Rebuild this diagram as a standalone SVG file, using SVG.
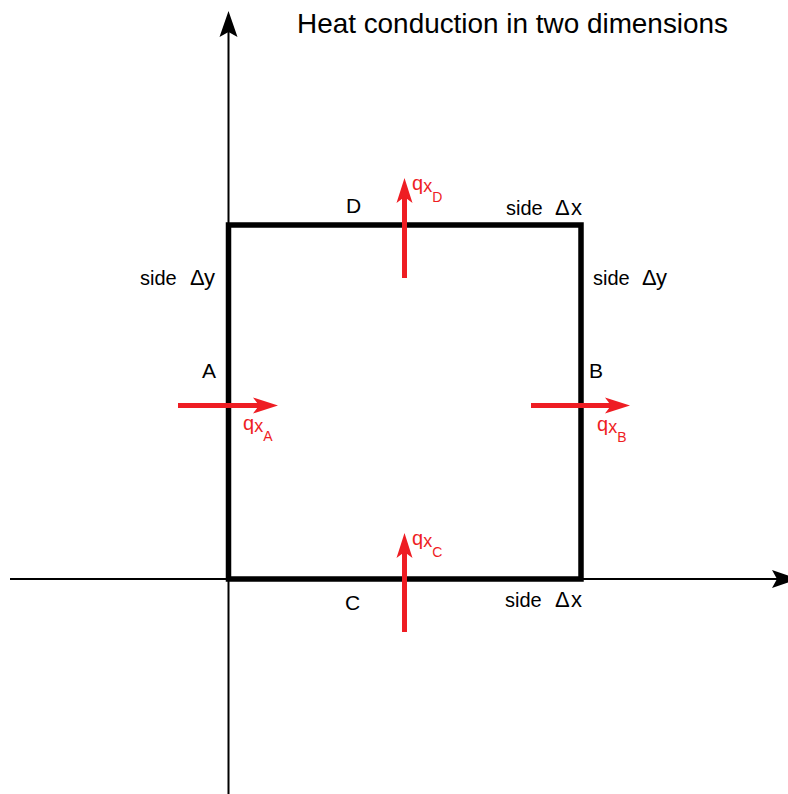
<svg xmlns="http://www.w3.org/2000/svg" width="788" height="794" viewBox="0 0 788 794">
<style>
text{font-family:"Liberation Sans",Arial,sans-serif;fill:#000}
.lbl{font-size:20px}
.sym{font-size:22px}
.big{font-size:21px}
.q{fill:#ee1d23}
.axis{stroke:#000;stroke-width:2;fill:none}
.flux{stroke:#ee1d23;stroke-width:5;fill:none}
.box{stroke:#000;stroke-width:5.5;fill:none}
</style>
<defs>
<marker id="ah" markerUnits="userSpaceOnUse" viewBox="-6 -10 28 20" markerWidth="28" markerHeight="20" refX="0" refY="0" orient="auto">
<path d="M21,0 L-5,-9 L0,0 L-5,9 Z" fill="#000"/>
</marker>
<marker id="rh" markerUnits="userSpaceOnUse" viewBox="-7 -9 27 18" markerWidth="27" markerHeight="18" refX="0" refY="0" orient="auto">
<path d="M19,0 L-6,-8 L0,0 L-6,8 Z" fill="#ee1d23"/>
</marker>
</defs>
<rect width="788" height="794" fill="#fff"/>
<text x="297" y="33" style="font-size:27.5px" textLength="431" lengthAdjust="spacingAndGlyphs">Heat conduction in two dimensions</text>
<g id="connectors">
<line class="axis" x1="228.5" y1="794" x2="228.5" y2="32" marker-end="url(#ah)"/>
<line class="axis" x1="10" y1="579" x2="777" y2="579" marker-end="url(#ah)"/>
</g>
<g id="element">
<rect class="box" x="228.5" y="225" width="352.5" height="354"/>
</g>
<g id="side-labels">
<text class="lbl" x="506" y="215">side <tspan class="sym" x="555">Δ</tspan><tspan class="sym" x="571">x</tspan></text>
<text class="lbl" x="505" y="607">side <tspan class="sym" x="555">Δ</tspan><tspan class="sym" x="571">x</tspan></text>
<text class="lbl" x="140" y="285">side <tspan class="sym" x="190">Δ</tspan><tspan class="sym" x="204">y</tspan></text>
<text class="lbl" x="593" y="285">side <tspan class="sym" x="642">Δ</tspan><tspan class="sym" x="656">y</tspan></text>
</g>
<g id="face-A"><text class="big" x="202" y="378">A</text></g>
<g id="face-B"><text class="big" x="589" y="378">B</text></g>
<g id="face-C"><text class="big" x="345" y="610">C</text></g>
<g id="face-D"><text class="big" x="346" y="213">D</text></g>
<g id="flux-arrows">
<line class="flux" x1="178" y1="405.5" x2="259" y2="405.5" marker-end="url(#rh)"/>
<line class="flux" x1="531" y1="405.5" x2="611" y2="405.5" marker-end="url(#rh)"/>
<line class="flux" x1="404.5" y1="278" x2="404.5" y2="197" marker-end="url(#rh)"/>
<line class="flux" x1="404.5" y1="632" x2="404.5" y2="552" marker-end="url(#rh)"/>
</g>
<g id="qx-A"><text class="q" x="243" y="430" font-size="20">q<tspan font-size="18" dy="2">x</tspan><tspan font-size="14" dy="9">A</tspan></text></g>
<g id="qx-B"><text class="q" x="597" y="431" font-size="20">q<tspan font-size="18" dy="2">x</tspan><tspan font-size="14" dy="9">B</tspan></text></g>
<g id="qx-C"><text class="q" x="412" y="545" font-size="20">q<tspan font-size="18" dy="2">x</tspan><tspan font-size="14" dy="10">C</tspan></text></g>
<g id="qx-D"><text class="q" x="412" y="190" font-size="20">q<tspan font-size="18" dy="2">x</tspan><tspan font-size="14" dy="10">D</tspan></text></g>
</svg>
